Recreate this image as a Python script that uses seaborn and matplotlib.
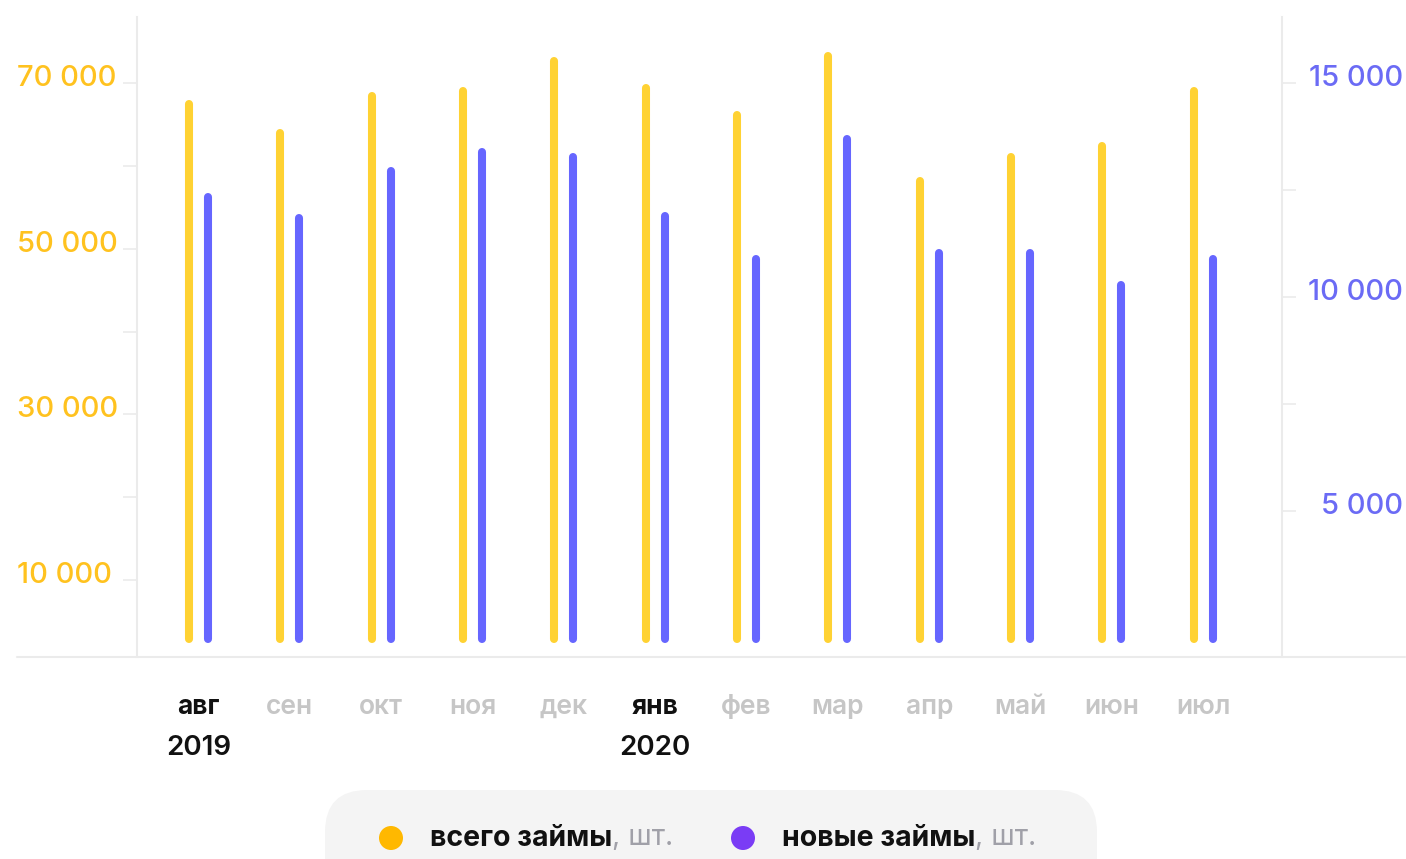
import matplotlib.pyplot as plt
import seaborn as sns
import pandas as pd
import numpy as np
from matplotlib.patches import FancyBboxPatch, Circle
from matplotlib.transforms import ScaledTranslation

# data
months = ['авг', 'сен', 'окт', 'ноя', 'дек', 'янв', 'фев', 'мар', 'апр', 'май', 'июн', 'июл']
years = {0: '2019', 5: '2020'}
total_loans = [67500, 64000, 68500, 69100, 72700, 69400, 66200, 73300, 58200, 61100, 62400, 69100]
new_loans = [12340, 11850, 12950, 13390, 13280, 11900, 10890, 13700, 11030, 11030, 10290, 10890]

left_ticks = [10000, 30000, 50000, 70000]
left_minor = [20000, 40000, 60000]
right_ticks = [5000, 10000, 15000]
right_minor = [7500, 12500]

YEL = '#FFD233'
BLUE = '#6666FF'
YEL_TXT = '#FFC21F'
BLUE_TXT = '#6B6BF5'
GRID = '#EBEBEB'
GREY_TXT = '#C6C6C6'

W, H = 1406, 859

def fmt(v):
    return f'{v:,}'.replace(',', ' ')

df = pd.DataFrame({'pos': np.arange(len(months)), 'total': total_loans, 'new': new_loans})

sns.set_style('white')
plt.rcParams['font.family'] = ['Inter', 'DejaVu Sans']

fig = plt.figure(figsize=(W / 100, H / 100), dpi=100)
ax = fig.add_axes([137 / W, 1 - 657 / H, 1145 / W, 640 / H])
ax2 = ax.twinx()

# bars start a little above the baseline
base_l, base_r = 2870, 2010
bar_kw = dict(width=0.001, native_scale=True, saturation=1, errorbar=None,
              linewidth=5.8, orient='x')
sns.barplot(x=df['pos'] - 0.104, y=df['total'] - base_l, bottom=base_l,
            color=YEL, edgecolor=YEL, ax=ax, **bar_kw)
sns.barplot(x=df['pos'] + 0.104, y=df['new'] - base_r, bottom=base_r,
            color=BLUE, edgecolor=BLUE, ax=ax2, **bar_kw)
# thin bars + thick round-joined outline = rounded bar ends
for a in (ax, ax2):
    for p in a.patches:
        p.set_joinstyle('round')
        p.set_capstyle('round')

ax.set_xlim(-0.672, 11.862)
ax.set_ylim(700, 78000)
ax2.set_ylim(1590, 16550)

for a in (ax, ax2):
    a.set_xlabel('')
    a.set_ylabel('')
    for s in a.spines.values():
        s.set_visible(False)
    a.set_xticks([])
ax.spines['left'].set_visible(True)
ax.spines['left'].set_color(GRID)
ax.spines['left'].set_linewidth(1.5)
ax2.spines['right'].set_visible(True)
ax2.spines['right'].set_color(GRID)
ax2.spines['right'].set_linewidth(1.5)

ax.set_yticks(left_ticks, [''] * len(left_ticks))
ax.set_yticks(left_minor, minor=True)
ax2.set_yticks(right_ticks, [''] * len(right_ticks))
ax2.set_yticks(right_minor, minor=True)
for a in (ax, ax2):
    a.tick_params(axis='y', which='both', length=10, width=1.2, color=GRID, direction='out')

# baseline running past both spines
ax.axhline(700, xmin=-0.105, xmax=1.107, color=GRID, lw=1.5, clip_on=False)

down = ScaledTranslation(0, -3 / 100, fig.dpi_scale_trans)
for v in left_ticks:
    ax.text(-0.1048, v, fmt(v), transform=ax.get_yaxis_transform() + down,
            ha='left', va='baseline', fontsize=21, fontweight=500, color=YEL_TXT)
down_r = ScaledTranslation(0, -2.5 / 100, fig.dpi_scale_trans)
for v in right_ticks:
    ax2.text(1.1057, v, fmt(v), transform=ax2.get_yaxis_transform() + down_r,
             ha='right', va='baseline', fontsize=21, fontweight=500, color=BLUE_TXT)

# month / year labels
for i, m in enumerate(months):
    first = i in years
    ax.text(i, (657 - 714) / 640, m, transform=ax.get_xaxis_transform(),
            ha='center', va='baseline', fontsize=19,
            fontweight='bold' if first else 600,
            color='#111111' if first else GREY_TXT)
    if first:
        ax.text(i, (657 - 755) / 640, years[i], transform=ax.get_xaxis_transform(),
                ha='center', va='baseline', fontsize=20, fontweight=600, color='#111111')

# legend strip at the bottom
ov = fig.add_axes([0, 0, 1, 1], zorder=-1)
ov.set_xlim(0, W)
ov.set_ylim(H, 0)
ov.axis('off')
ov.add_patch(FancyBboxPatch((325, 790), 772, 120, boxstyle='round,pad=0,rounding_size=42',
                            fc='#F4F4F4', ec='none'))

legend_items = [('всего займы', '#FFB800', 391), ('новые займы', '#7A3CF5', 743)]
for label, c, x in legend_items:
    ov.add_patch(Circle((x, 838), 12, fc=c, ec='none'))
    t = ov.text(x + 39, 838, label, ha='left', va='center', fontsize=20.5,
                fontweight='bold', color='#111111')
    ov.annotate(', шт.', xy=(1, 0), xycoords=t, ha='left', va='bottom',
                fontsize=20.5, color='#A0A0A8')

fig.savefig('out.png', dpi=100)
